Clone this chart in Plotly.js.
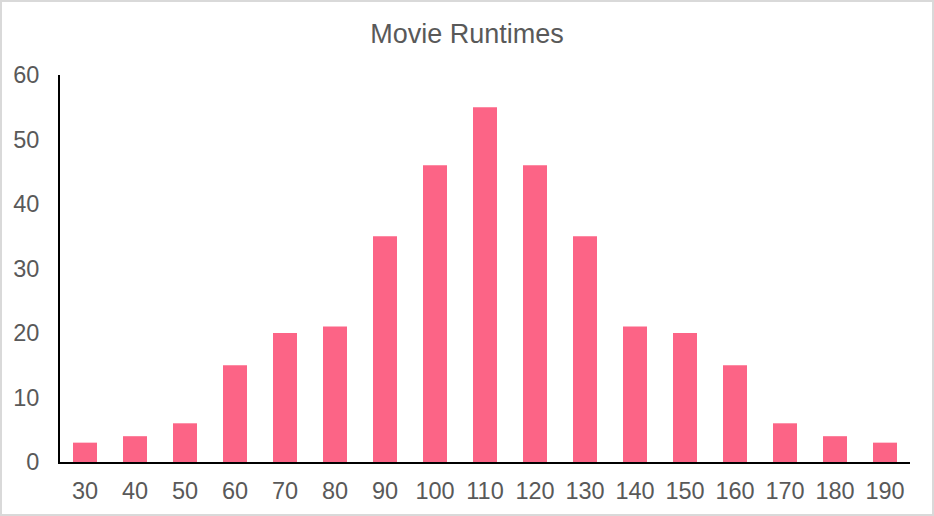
<!DOCTYPE html>
<html>
<head>
<meta charset="utf-8">
<script src="https://cdn.plot.ly/plotly-3.0.1.min.js"></script>
<style>
html,body{margin:0;padding:0;background:#fff;}
#wrap{position:relative;width:934px;height:516px;}
#chart{width:934px;height:516px;}
#frame{position:absolute;left:0;top:0;width:934px;height:516px;box-sizing:border-box;border:2px solid #D9D9D9;pointer-events:none;}
</style>
</head>
<body>
<div id="wrap"><div id="chart"></div><div id="frame"></div></div>
<script>
const categories = ["30","40","50","60","70","80","90","100","110","120","130","140","150","160","170","180","190"];
const counts = [3,4,6,15,20,21,35,46,55,46,35,21,20,15,6,4,3];
const yTicks = [0,10,20,30,40,50,60];

const trace = {
  type: 'bar',
  x: categories,
  y: counts,
  marker: {color: '#FC6486'},
  hoverinfo: 'x+y'
};

const layout = {
  width: 934,
  height: 516,
  margin: {l: 60, r: 24, t: 75, b: 54},
  paper_bgcolor: '#fff',
  plot_bgcolor: '#fff',
  bargap: 0.52,
  showlegend: false,
  title: {
    text: 'Movie Runtimes',
    font: {family: 'Arial, Liberation Sans, sans-serif', size: 27, color: '#595959'},
    x: 0.5, xanchor: 'center', y: 0.935, yanchor: 'middle'
  },
  xaxis: {
    type: 'category',
    showline: true, linecolor: '#000', linewidth: 2,
    showgrid: false, zeroline: false,
    ticks: 'outside', ticklen: 7, tickcolor: 'rgba(0,0,0,0)',
    tickfont: {family: 'Arial, Liberation Sans, sans-serif', size: 23.5, color: '#595959'}
  },
  yaxis: {
    range: [0, 60],
    tickvals: yTicks,
    showline: true, linecolor: '#000', linewidth: 2,
    showgrid: false, zeroline: false,
    ticks: 'outside', ticklen: 14, tickcolor: 'rgba(0,0,0,0)',
    tickfont: {family: 'Arial, Liberation Sans, sans-serif', size: 23.5, color: '#595959'}
  }
};

Plotly.newPlot('chart', [trace], layout, {displayModeBar: false, staticPlot: true});
</script>
</body>
</html>
